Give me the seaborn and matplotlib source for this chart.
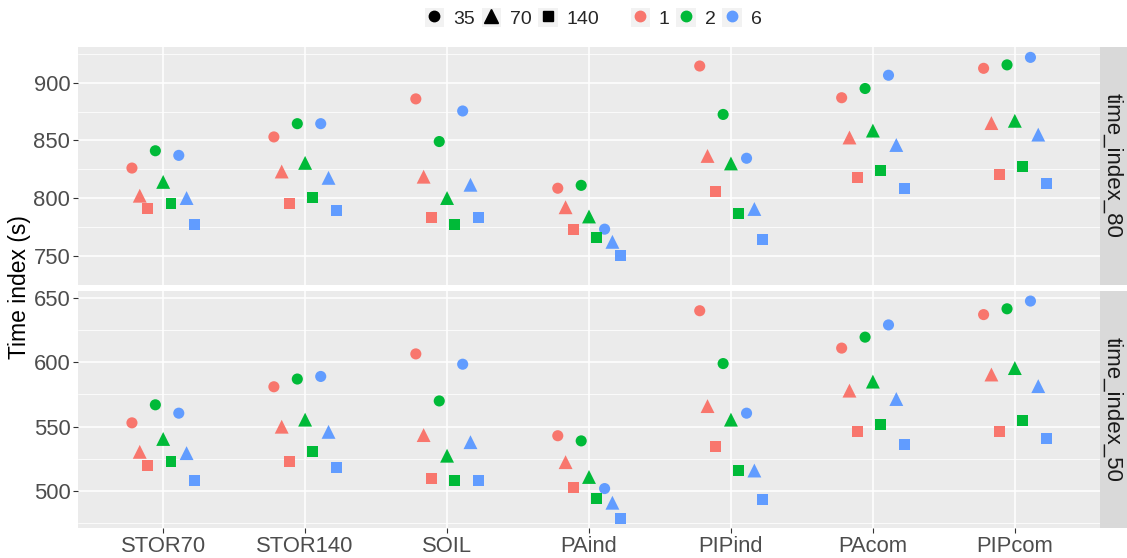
import numpy as np
import pandas as pd
import matplotlib
matplotlib.use("Agg")
import matplotlib.pyplot as plt
import seaborn as sns
from matplotlib.lines import Line2D
from matplotlib.patches import Patch

# ---------------- data ----------------
categories = ["STOR70", "STOR140", "SOIL", "PAind", "PIPind", "PAcom", "PIPcom"]
shape_levels = ["35", "70", "140"]
color_levels = ["1", "2", "6"]
facets = ["time_index_80", "time_index_50"]

# time_index_80  (color, shape)
t80_1_35 = [826, 853, 886, 808.5, 914.5, 887, 912.5]
t80_1_70 = [802, 823, 818.5, 792, 836.5, 852.5, 865]
t80_1_140 = [791, 795, 783, 773, 806, 818, 820.5]
t80_2_35 = [841, 864.5, 849, 811, 872.5, 895, 915.5]
t80_2_70 = [814, 830.5, 800, 784, 830, 858.5, 867]
t80_2_140 = [795, 800.5, 777, 765.5, 786.5, 824, 827]
t80_6_35 = [837, 864.5, 875.5, 773, 834.5, 906.5, 922]
t80_6_70 = [800, 817.5, 811.5, 762, 790.5, 846, 855]
t80_6_140 = [777, 789, 783, 750.5, 764, 808.5, 812.5]

# time_index_50  (color, shape)
t50_1_35 = [553, 581, 606.5, 543, 640, 611, 637]
t50_1_70 = [530.5, 550, 543.5, 522.5, 566, 578, 590.5]
t50_1_140 = [520, 523, 510, 503, 535, 546, 546.5]
t50_2_35 = [567, 587, 570, 539, 599, 619.5, 641.5]
t50_2_70 = [540.5, 555.5, 527.5, 511, 555.5, 585, 595.5]
t50_2_140 = [523, 531, 508, 494.5, 516, 552, 554.5]
t50_6_35 = [560.5, 589, 598.5, 502, 560.5, 629, 647.5]
t50_6_70 = [529.5, 546, 538, 491, 516, 571.5, 581.5]
t50_6_140 = [508.5, 518.5, 508.5, 479, 493.5, 536, 541]

series = {
    ("time_index_80", "1", "35"): t80_1_35, ("time_index_80", "1", "70"): t80_1_70,
    ("time_index_80", "1", "140"): t80_1_140, ("time_index_80", "2", "35"): t80_2_35,
    ("time_index_80", "2", "70"): t80_2_70, ("time_index_80", "2", "140"): t80_2_140,
    ("time_index_80", "6", "35"): t80_6_35, ("time_index_80", "6", "70"): t80_6_70,
    ("time_index_80", "6", "140"): t80_6_140,
    ("time_index_50", "1", "35"): t50_1_35, ("time_index_50", "1", "70"): t50_1_70,
    ("time_index_50", "1", "140"): t50_1_140, ("time_index_50", "2", "35"): t50_2_35,
    ("time_index_50", "2", "70"): t50_2_70, ("time_index_50", "2", "140"): t50_2_140,
    ("time_index_50", "6", "35"): t50_6_35, ("time_index_50", "6", "70"): t50_6_70,
    ("time_index_50", "6", "140"): t50_6_140,
}

DODGE_STEP = 0.055
rows = []
for (fac, col, shp), vals in series.items():
    ci = color_levels.index(col)
    si = shape_levels.index(shp)
    off = (ci * 3 + si - 4) * DODGE_STEP
    for k, v in enumerate(vals):
        rows.append(dict(facet=fac, color=col, shape=shp, category=categories[k],
                         x=k + off, value=v))
df = pd.DataFrame(rows)

palette = {"1": "#F8766D", "2": "#00BA38", "6": "#619CFF"}
markers = {"35": "o", "70": "^", "140": "s"}
marker_area = {"35": 64, "70": 100, "140": 62}

# ---------------- figure ----------------
sns.set_theme(style="darkgrid")
plt.rcParams["font.family"] = ["Liberation Sans", "DejaVu Sans"]

W, H = 1127, 558
fig = plt.figure(figsize=(W / 100, H / 100), dpi=100)

def fax(x0, y0, x1, y1):
    return fig.add_axes([x0 / W, 1 - y1 / H, (x1 - x0) / W, (y1 - y0) / H])

ax_top = fax(78, 47, 1100, 284.5)
ax_bot = fax(78, 290.5, 1100, 528)
strip_top = fax(1100, 47, 1127, 284.5)
strip_bot = fax(1100, 290.5, 1127, 528)

ylims = {"time_index_80": (743, 931), "time_index_50": (471.4, 655.7)}
majors = {"time_index_80": [750, 800, 850, 900], "time_index_50": [500, 550, 600, 650]}
minors = {"time_index_80": [725, 775, 825, 875, 925], "time_index_50": [475, 525, 575, 625]}

for ax, fac, strip in [(ax_top, "time_index_80", strip_top), (ax_bot, "time_index_50", strip_bot)]:
    sub = df[df.facet == fac]
    for shp in shape_levels:
        s = sub[sub["shape"] == shp]
        sns.scatterplot(data=s, x="x", y="value", hue="color", palette=palette,
                        hue_order=color_levels, marker=markers[shp], s=marker_area[shp],
                        linewidth=0, ax=ax, legend=False, zorder=3)
    ax.set_facecolor("#EBEBEB")
    ax.set_xlim(-0.6, len(categories) - 1 + 0.6)
    ax.set_ylim(*ylims[fac])
    ax.set_yticks(majors[fac])
    ax.set_yticks(minors[fac], minor=True)
    ax.set_xticks(range(len(categories)))
    ax.grid(True, which="major", color="white", linewidth=1.1)
    ax.grid(True, which="minor", axis="y", color="white", linewidth=0.55)
    ax.set_axisbelow(True)
    for sp in ax.spines.values():
        sp.set_visible(False)
    ax.set_xlabel("")
    ax.set_ylabel("")
    ax.tick_params(axis="y", which="major", length=3.5, width=0.8, color="#333333",
                   labelsize=15.8, labelcolor="#4D4D4D", pad=2, left=True)
    ax.tick_params(axis="y", which="minor", length=0)
    ax.set_yticklabels([str(v) for v in majors[fac]])

    strip.set_facecolor("#D9D9D9")
    strip.set_xticks([])
    strip.set_yticks([])
    strip.grid(False)
    for sp in strip.spines.values():
        sp.set_visible(False)
    strip.text(0.45, 0.5, fac, rotation=-90, ha="center", va="center",
               fontsize=16, color="#1A1A1A", transform=strip.transAxes)

ax_top.tick_params(axis="x", which="both", length=0, labelbottom=False)
ax_bot.set_xticklabels(categories)
ax_bot.tick_params(axis="x", which="major", length=3.5, width=0.8, color="#333333",
                   labelsize=15.8, labelcolor="#4D4D4D", pad=2, bottom=True)

fig.text(20 / W, 1 - 287 / H, "Time index (s)", rotation=90, ha="center", va="center",
         fontsize=16.5, color="black")

# ---------------- legends ----------------
key_bg = "#F2F2F2"
shape_handles = [(Patch(facecolor=key_bg, edgecolor="none"),
                  Line2D([], [], marker=markers[s], color="black", linestyle="none",
                         markersize=7.5 if s != "70" else 9.5))
                 for s in shape_levels]
color_handles = [(Patch(facecolor=key_bg, edgecolor="none"),
                  Line2D([], [], marker="o", color=palette[c], linestyle="none", markersize=7.5))
                 for c in color_levels]

leg_kw = dict(loc="center", ncol=3, frameon=False, fontsize=14, handlelength=1.0,
              handleheight=1.1, handletextpad=0.45, columnspacing=0.35, borderpad=0)
leg1 = fig.legend(shape_handles, shape_levels, bbox_to_anchor=(512 / W, 1 - 18 / H), **leg_kw)
leg2 = fig.legend(color_handles, color_levels, bbox_to_anchor=(696 / W, 1 - 18 / H), **leg_kw)

fig.savefig("out.png", dpi=100, facecolor="white")
